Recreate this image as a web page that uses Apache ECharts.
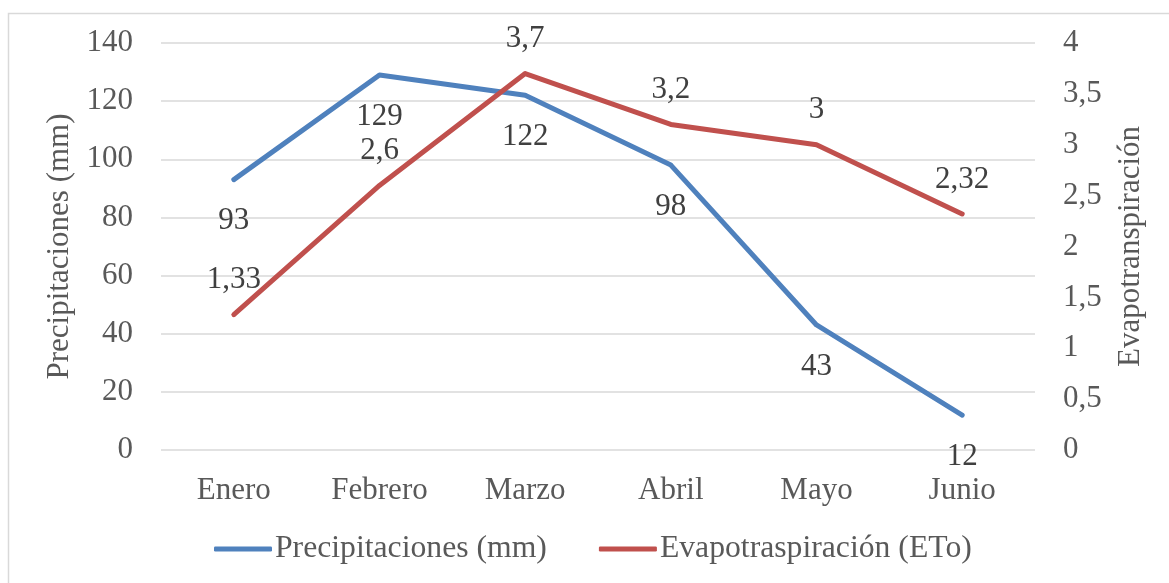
<!DOCTYPE html>
<html>
<head>
<meta charset="utf-8">
<style>
  html, body { margin: 0; padding: 0; background: #fff; }
  #chart { width: 1169px; height: 583px; }
</style>
<script src="https://cdn.jsdelivr.net/npm/echarts@6/dist/echarts.min.js"></script>
</head>
<body>
<div id="chart"></div>
<script>
// Monthly precipitation and reference evapotranspiration
const months = ['Enero', 'Febrero', 'Marzo', 'Abril', 'Mayo', 'Junio'];
const precipitaciones = [93, 129, 122, 98, 43, 12];
const evapotranspiracion = [1.33, 2.6, 3.7, 3.2, 3, 2.32];
const precipTicks = { min: 0, max: 140, interval: 20 };
const etoTicks = { min: 0, max: 4, interval: 0.5 };

const FONT = "'Liberation Serif', 'Times New Roman', serif";
const comma = v => String(v).replace('.', ',');

const chart = echarts.init(document.getElementById('chart'), null, { renderer: 'canvas' });

chart.setOption({
  backgroundColor: '#ffffff',
  animation: false,
  graphic: [{
    type: 'rect',
    shape: { x: 8.5, y: 13.5, width: 1200, height: 620 },
    style: { fill: 'none', stroke: '#d9d9d9', lineWidth: 1.5 },
    silent: true,
    z: -1
  }],
  grid: { left: 161, right: 134, top: 43, bottom: 133 },
  legend: {
    top: 528,
    left: 209,
    itemWidth: 58,
    itemHeight: 5,
    itemGap: 52,
    icon: 'roundRect',
    textStyle: { fontFamily: FONT, fontSize: 31.7, color: '#595959', padding: [0, 0, 0, -2] },
    data: ['Precipitaciones (mm)', 'Evapotraspiración (ETo)']
  },
  xAxis: {
    type: 'category',
    data: months,
    boundaryGap: true,
    axisLine: { show: false },
    axisTick: { show: false },
    axisLabel: { fontFamily: FONT, fontSize: 31, color: '#595959', margin: 25 }
  },
  yAxis: [{
    type: 'value',
    min: precipTicks.min, max: precipTicks.max, interval: precipTicks.interval,
    name: 'Precipitaciones (mm)',
    nameLocation: 'middle',
    nameRotate: 90,
    nameGap: 84,
    nameTextStyle: { fontFamily: FONT, fontSize: 31, color: '#595959' },
    axisLine: { show: false },
    axisTick: { show: false },
    axisLabel: { fontFamily: FONT, fontSize: 31, color: '#595959', margin: 28 },
    splitLine: { lineStyle: { color: '#d9d9d9', width: 1.5 } }
  }, {
    type: 'value',
    position: 'right',
    min: etoTicks.min, max: etoTicks.max, interval: etoTicks.interval,
    name: 'Evapotranspiración',
    nameLocation: 'middle',
    nameRotate: 90,
    nameGap: 80,
    nameTextStyle: { fontFamily: FONT, fontSize: 31, color: '#595959' },
    axisLine: { show: false },
    axisTick: { show: false },
    axisLabel: { fontFamily: FONT, fontSize: 31, color: '#595959', margin: 28, formatter: comma },
    splitLine: { show: false }
  }],
  series: [{
    name: 'Precipitaciones (mm)',
    type: 'line',
    yAxisIndex: 0,
    data: precipitaciones,
    showSymbol: true,
    symbol: 'circle',
    symbolSize: 4,
    color: '#4f81bd',
    itemStyle: { color: '#4f81bd', borderWidth: 0 },
    lineStyle: { width: 5, color: '#4f81bd', cap: 'round', join: 'round' },
    label: {
      show: true, position: 'bottom', distance: 24,
      fontFamily: FONT, fontSize: 31, color: '#404040',
      formatter: p => comma(p.value)
    }
  }, {
    name: 'Evapotraspiración (ETo)',
    type: 'line',
    yAxisIndex: 1,
    data: evapotranspiracion,
    showSymbol: true,
    symbol: 'circle',
    symbolSize: 4,
    color: '#c0504d',
    itemStyle: { color: '#c0504d', borderWidth: 0 },
    lineStyle: { width: 5, color: '#c0504d', cap: 'round', join: 'round' },
    label: {
      show: true, position: 'top', distance: 17,
      fontFamily: FONT, fontSize: 31, color: '#404040',
      formatter: p => comma(p.value)
    }
  }]
});
</script>
</body>
</html>
